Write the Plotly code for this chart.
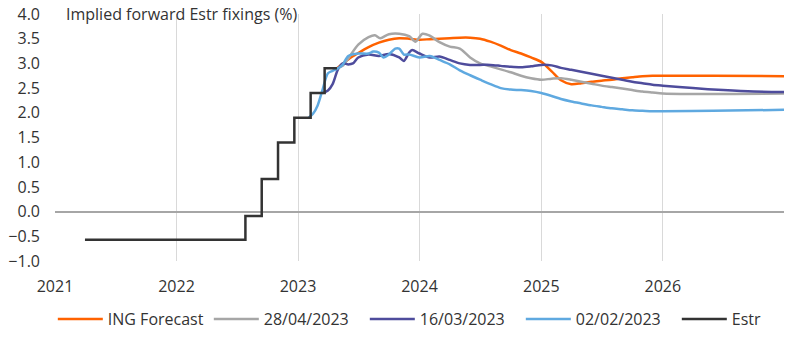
import plotly.graph_objects as go

# ---------------- data ----------------
ing_dates = ["2023-04-28", "2023-06-01", "2023-07-01", "2023-08-01", "2023-09-01", "2023-10-01",
             "2023-11-01", "2023-12-01", "2024-01-01", "2024-02-01", "2024-03-01", "2024-04-01",
             "2024-05-01", "2024-06-01", "2024-07-01", "2024-08-01", "2024-09-01", "2024-10-01",
             "2024-11-01", "2024-12-01", "2025-01-01", "2025-02-01", "2025-03-01", "2025-04-01",
             "2025-05-01", "2025-06-01", "2025-07-01", "2025-08-01", "2025-09-01", "2025-10-01",
             "2025-11-01", "2025-12-01", "2026-01-01", "2026-06-01", "2026-12-31"]
ing_vals = [2.90, 3.08, 3.21, 3.33, 3.42, 3.48, 3.51, 3.50, 3.48, 3.49, 3.50, 3.51,
            3.52, 3.52, 3.50, 3.44, 3.36, 3.27, 3.20, 3.12, 3.03, 2.84, 2.66, 2.58,
            2.60, 2.63, 2.65, 2.67, 2.70, 2.72, 2.74, 2.75, 2.75, 2.75, 2.74]

apr28_dates = ["2023-04-28", "2023-05-15", "2023-06-01", "2023-07-01", "2023-08-01", "2023-08-20",
               "2023-09-05", "2023-10-01", "2023-11-01", "2023-12-01", "2023-12-20", "2024-01-10",
               "2024-02-01", "2024-03-01", "2024-04-01", "2024-05-01", "2024-06-01", "2024-07-01",
               "2024-08-01", "2024-09-01", "2024-10-01", "2024-11-01", "2024-12-01", "2025-01-01",
               "2025-02-01", "2025-03-01", "2025-04-01", "2025-05-01", "2025-06-01", "2025-07-01",
               "2025-08-01", "2025-09-01", "2025-10-01", "2025-11-01", "2025-12-01", "2026-01-01",
               "2026-04-01", "2026-08-01", "2026-12-31"]
apr28_vals = [2.90, 2.95, 3.10, 3.38, 3.53, 3.57, 3.51, 3.59, 3.60, 3.55, 3.44, 3.60,
              3.56, 3.43, 3.34, 3.30, 3.12, 3.00, 2.94, 2.88, 2.82, 2.75, 2.70, 2.67,
              2.69, 2.70, 2.67, 2.63, 2.59, 2.55, 2.52, 2.49, 2.46, 2.43, 2.41, 2.39,
              2.38, 2.38, 2.39]

mar16_dates = ["2023-03-16", "2023-04-01", "2023-04-15", "2023-05-01", "2023-05-15", "2023-06-01",
               "2023-06-15", "2023-07-01", "2023-08-01", "2023-09-01", "2023-10-01", "2023-11-01",
               "2023-11-15", "2023-12-01", "2023-12-10", "2024-01-01", "2024-02-01", "2024-03-01",
               "2024-04-01", "2024-05-01", "2024-06-01", "2024-07-01", "2024-08-01", "2024-09-01",
               "2024-10-01", "2024-11-01", "2024-12-01", "2025-01-01", "2025-02-01", "2025-03-01",
               "2025-04-01", "2025-05-01", "2025-06-01", "2025-07-01", "2025-08-01", "2025-09-01",
               "2025-10-01", "2025-11-01", "2025-12-01", "2026-01-01", "2026-04-01", "2026-07-01",
               "2026-10-01", "2026-12-31"]
mar16_vals = [2.40, 2.45, 2.58, 2.88, 3.00, 2.98, 3.00, 3.12, 3.18, 3.15, 3.19, 3.12,
              3.05, 3.22, 3.27, 3.20, 3.12, 3.14, 3.07, 3.00, 2.97, 2.97, 2.97, 2.95,
              2.93, 2.92, 2.94, 2.97, 2.96, 2.91, 2.87, 2.83, 2.79, 2.75, 2.71, 2.67,
              2.63, 2.60, 2.57, 2.55, 2.50, 2.46, 2.43, 2.42]

feb02_dates = ["2023-02-02", "2023-02-15", "2023-03-01", "2023-03-15", "2023-04-01", "2023-04-15",
               "2023-05-01", "2023-05-15", "2023-06-01", "2023-07-01", "2023-08-01", "2023-08-15",
               "2023-09-01", "2023-09-15", "2023-10-01", "2023-10-20", "2023-11-01", "2023-11-15",
               "2023-12-01", "2024-01-01", "2024-02-01", "2024-03-01", "2024-04-01", "2024-05-01",
               "2024-06-01", "2024-07-01", "2024-08-01", "2024-09-01", "2024-10-01", "2024-11-01",
               "2024-12-01", "2025-01-01", "2025-02-01", "2025-03-01", "2025-04-01", "2025-05-01",
               "2025-06-01", "2025-07-01", "2025-08-01", "2025-09-01", "2025-10-01", "2025-11-01",
               "2025-12-01", "2026-01-01", "2026-06-01", "2026-12-31"]
feb02_vals = [1.90, 1.98, 2.15, 2.45, 2.80, 2.85, 2.90, 2.97, 3.15, 3.20, 3.20, 3.24,
              3.22, 3.12, 3.18, 3.30, 3.30, 3.18, 3.18, 3.12, 3.15, 3.07, 2.98, 2.86,
              2.76, 2.67, 2.58, 2.50, 2.47, 2.46, 2.44, 2.40, 2.34, 2.28, 2.23, 2.19,
              2.15, 2.12, 2.09, 2.07, 2.05, 2.04, 2.03, 2.03, 2.04, 2.06]

estr_dates = ["2021-04-01", "2022-07-27", "2022-09-14",
              "2022-11-02", "2022-12-21", "2023-02-08", "2023-03-22", "2023-04-28"]
estr_vals = [-0.57, -0.09, 0.66, 1.40, 1.90, 2.40, 2.90, 2.90]

series_names = ["ING Forecast", "28/04/2023", "16/03/2023", "02/02/2023", "Estr"]
series_colors = ["#FF6200", "#A6A6A6", "#4E4C9C", "#5FA9E0", "#333333"]

# ---------------- figure ----------------
fig = go.Figure()
curves = [(ing_dates, ing_vals), (apr28_dates, apr28_vals), (mar16_dates, mar16_vals),
          (feb02_dates, feb02_vals)]
for (d, v), name, col in zip(curves, series_names[:4], series_colors[:4]):
    fig.add_trace(go.Scatter(x=d, y=v, name=name, mode="lines",
                             line=dict(color=col, width=2.5, shape="spline", smoothing=0.8)))
fig.add_trace(go.Scatter(x=estr_dates, y=estr_vals, name=series_names[4], mode="lines",
                         line=dict(color=series_colors[4], width=2.5, shape="hv")))

font_family = "'Open Sans', 'Noto Sans', sans-serif"
fig.update_layout(
    width=800, height=337,
    margin=dict(l=55, r=16, t=14, b=76, autoexpand=False),
    paper_bgcolor="white", plot_bgcolor="white",
    font=dict(family=font_family, size=16, color="#333333"),
    showlegend=True,
    legend=dict(orientation="h", x=-0.003, xanchor="left", y=-0.235, yanchor="middle",
                font=dict(size=16, color="#333333"), itemwidth=45,
                entrywidth=96, entrywidthmode="pixels"),
    xaxis=dict(type="date", range=["2021-01-01", "2026-12-31"], tickformat="%Y",
               dtick="M12", tick0="2021-01-01", showgrid=True, gridcolor="#D9D9D9",
               gridwidth=1, showline=False, zeroline=False, ticks="",
               ticklabelstandoff=14, tickfont=dict(size=16, color="#333333")),
    yaxis=dict(range=[-1, 4], dtick=0.5, tick0=0, tickformat=".1f", showgrid=False,
               zeroline=True, zerolinecolor="#A6A6A6", zerolinewidth=1.5,
               showline=False, ticks="", ticklabelstandoff=14,
               tickfont=dict(size=16, color="#333333")),
    annotations=[dict(text="Implied forward Estr fixings (%)", xref="paper", yref="paper",
                      x=0.013, y=1.0, xanchor="left", yanchor="middle", showarrow=False,
                      font=dict(size=16, color="#333333"))],
)

fig.write_html("out.html")
